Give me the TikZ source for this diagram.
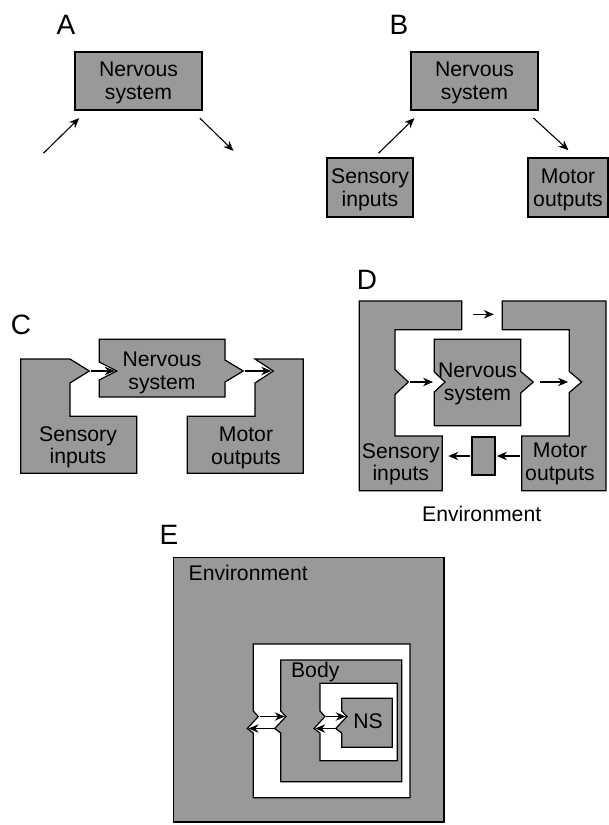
\documentclass[tikz,border=0pt]{standalone}
\usepackage{fontspec}
\setmainfont{Liberation Sans}
\usetikzlibrary{positioning, arrows.meta}
\definecolor{boxgray}{RGB}{153,153,153}
\tikzset{x=0.5pt, y=-0.5pt, % one unit is one pixel of the sketch, y grows downwards
>={Stealth[length=5pt, width=4.2pt]}, % small filled arrow heads
greybox/.style={draw, line width=0.6pt, fill=boxgray}, % grey parts
whitebox/.style={draw, line width=0.6pt, fill=white}, % white parts
block/.style={greybox, inner sep=0pt, align=center, text depth=0pt, font=\fontsize{10.6}{11.3}\selectfont},
words/.style={inner sep=0pt, align=center, text depth=0pt, font=\fontsize{10.6}{11.3}\selectfont},
panel/.style={inner sep=0pt, font=\fontsize{14}{16}\selectfont}, % the letters A..E
flow/.style={->, line width=0.55pt, shorten <=0.6pt, shorten >=0.6pt},
}

\begin{document}
\begin{tikzpicture}
\useasboundingbox (0,0) rectangle (609,825);

% A
\node[panel] (labA) at (66,25) {A};
\node[block, minimum width=63.5pt, minimum height=29pt] (nsA) at (138.5,81) {Nervous\\system};
\coordinate (inA) at (42.7,154);
\coordinate (inA-tip) at (80,117.3);
\coordinate (outA) at (199,117.3);
\coordinate (outA-tip) at (234.3,151.7);
\draw
(inA) edge[flow] (inA-tip)
(outA) edge[flow] (outA-tip);

% B
\node[panel] (labB) at (399,25) {B};
\node[block, minimum width=63.5pt, minimum height=29pt] (nsB) at (474.5,81) {Nervous\\system};
\node[block, minimum width=43pt, minimum height=29.5pt] (sensB) at (370,187.5) {Sensory\\inputs};
\node[block, minimum width=40pt, minimum height=29.5pt] (motB) at (568,187.5) {Motor\\outputs};
\coordinate (sensB-out) at (377.7,154);
\coordinate (nsB-in) at (415.3,117.3);
\coordinate (nsB-out) at (532.7,117.3);
\coordinate (motB-in) at (569.3,151);
\draw
(sensB-out) edge[flow] (nsB-in)
(nsB-out) edge[flow] (motB-in);

% C
\node[panel] (labC) at (21,325) {C};
\coordinate (sC-tip) at (89.3,371);
\coordinate (nC-in) at (116.7,371);
\coordinate (nC-tip) at (243.3,371);
\coordinate (mC-in) at (273.3,371);
\draw[greybox] (20.7,359) -- (70,359) -- (sC-tip) -- (70,383) -- (70,416.3) -- (136.7,416.3)
  -- (136.7,473.3) -- (20.7,473.3) -- cycle;
\draw[greybox] (99.3,339.3) -- (225,339.3) -- (225,360) -- (nC-tip) -- (225,382) -- (225,397)
  -- (99.3,397) -- (99.3,380) -- (nC-in) -- (99.3,362) -- cycle;
\draw[greybox] (255,359) -- (303.3,359) -- (303.3,473.3) -- (187.3,473.3) -- (187.3,416.3)
  -- (255,416.3) -- (255,383) -- (mC-in) -- cycle;
\node[words] (sensC) at (78,445) {Sensory\\inputs};
\node[words] (nsC) at (162,370.5) {Nervous\\system};
\node[words] (motC) at (246,446) {Motor\\outputs};
\draw
(sC-tip) edge[flow, shorten <=0.8pt, shorten >=1pt] (nC-in)
(nC-tip) edge[flow, shorten <=0.8pt, shorten >=1pt] (mC-in);

% D
\node[panel] (labD) at (367,280) {D};
\coordinate (sD-tip) at (408.3,382);
\coordinate (nD-in) at (445,382);
\coordinate (nD-mouth) at (434.3,382);
\coordinate (nD-tip) at (533.3,382);
\coordinate (mD-in) at (581.7,382);
\coordinate (mD-mouth) at (569.3,382);
\draw[greybox] (359.3,301) -- (461.7,301) -- (461.7,329.7) -- (395,329.7) -- (395,369.5) -- (sD-tip)
  -- (395,394.5) -- (395,436) -- (442.3,436) -- (442.3,490.7) -- (359.3,490.7) -- cycle;
\draw[greybox] (434.3,339.3) -- (520.7,339.3) -- (520.7,371.5) -- (nD-tip) -- (520.7,393)
  -- (520.7,425.7) -- (434.3,425.7) -- (434.3,392) -- (nD-in) -- (434.3,372) -- cycle;
\draw[greybox] (502.3,301) -- (606,301) -- (606,490.7) -- (521.7,490.7) -- (521.7,436) -- (569.3,436)
  -- (569.3,392.5) -- (mD-in) -- (569.3,371.5) -- (569.3,329.7) -- (502.3,329.7) -- cycle;
\node[block, minimum width=11.5pt, minimum height=19pt] (envD) at (483.5,456) {};
\node[words] (sensD) at (400.8,462) {Sensory\\inputs};
\node[words] (nsD) at (477.5,381.7) {Nervous\\system};
\node[words] (motD) at (560,462) {Motor\\outputs};
\node[words, anchor=base] (envDtext) at (481.7,521.7) {Environment};
\coordinate (topD-a) at (472,314.3);
\coordinate (topD-b) at (495,314.3);
\coordinate (motD-edge) at (521.7,456);
\coordinate (sensD-edge) at (442.3,456);
\draw
(topD-a) edge[flow] (topD-b)
(sD-tip) edge[flow, shorten <=1pt] (nD-mouth)
(nD-tip) edge[flow, shorten <=3.3pt] (mD-mouth)
(motD-edge) edge[flow, shorten <=0.8pt] (envD.east)
(envD.west) edge[flow, shorten >=3pt] (sensD-edge);

% E
\node[panel] (labE) at (169,535) {E};
\coordinate (wE-out) at (258.3,716.5);
\coordinate (wE-in) at (247.3,728.5);
\coordinate (bE-in) at (286,716.5);
\coordinate (bE-out) at (274.7,728.5);
\coordinate (iE-out) at (325,716.5);
\coordinate (iE-in) at (314,728.5);
\coordinate (nE-in) at (347,716.5);
\coordinate (nE-out) at (335.7,728.5);
\draw[greybox] (173.3,557.7) rectangle (444,822);
\draw[whitebox] (253.3,644) -- (410,644) -- (410,797.7) -- (253.3,797.7) -- (253.3,733)
  -- (wE-in) -- (wE-out) -- (253.3,711) -- cycle;
\draw[greybox] (280.7,660) -- (401.7,660) -- (401.7,781.7) -- (280.7,781.7) -- (280.7,733)
  -- (bE-out) -- (bE-in) -- (280.7,711) -- cycle;
\draw[whitebox] (320,683.3) -- (397.3,683.3) -- (397.3,760.7) -- (320,760.7) -- (320,733)
  -- (iE-in) -- (iE-out) -- (320,711) -- cycle;
\draw[greybox] (341.7,698.3) -- (392.3,698.3) -- (392.3,747.3) -- (341.7,747.3) -- (341.7,733)
  -- (nE-out) -- (nE-in) -- (341.7,711) -- cycle;
\node[words, anchor=base west] (envE) at (188.3,580) {Environment};
\node[words, anchor=base west] (bodyE) at (290.7,677) {Body};
\node[words, anchor=base] (nsE) at (368,728) {NS};
\draw
(wE-out) edge[flow] (bE-in)
(bE-out) edge[flow] (wE-in)
(iE-out) edge[flow] (nE-in)
(nE-out) edge[flow] (iE-in);

\end{tikzpicture}
\end{document}
